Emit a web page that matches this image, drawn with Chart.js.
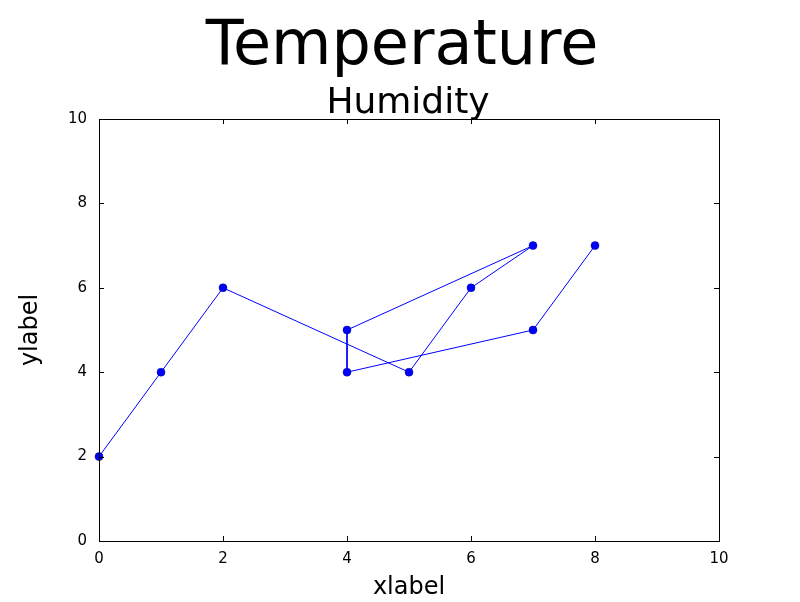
<!DOCTYPE html>
<html><head><meta charset="utf-8">
<script src="https://cdn.jsdelivr.net/npm/chart.js@4/dist/chart.umd.min.js"></script>
<style>html,body{margin:0;padding:0;background:#fff}#w{width:800px;height:602px}</style>
</head><body><div id="w"><canvas id="c"></canvas></div>
<script>
const xValues = [0, 1, 2, 5, 6, 7, 4, 4, 7, 8];
const yValues = [2, 4, 6, 4, 6, 7, 5, 4, 5, 7];
const titleText = "Temperature";
const subtitleText = "Humidity";
const xTitle = "xlabel";
const yTitle = "ylabel";
const FONT = "'DejaVu Sans', sans-serif";

const titles = {
  id: 'titles',
  afterDraw(chart) {
    const ctx = chart.ctx;
    ctx.save();
    ctx.fillStyle = '#000';
    ctx.textAlign = 'center';
    ctx.textBaseline = 'alphabetic';
    ctx.font = "62px " + FONT;
    ctx.fillText(titleText, 402, 64);
    ctx.font = "36px " + FONT;
    ctx.fillText(subtitleText, 408, 113);
    const a = chart.chartArea, xs = chart.scales.x, ys = chart.scales.y;
    ctx.strokeStyle = '#000'; ctx.lineWidth = 1;
    ctx.beginPath();
    for (let v = 0; v <= 10; v += 2) {
      const px = Math.round(xs.getPixelForValue(v)) + 0.5;
      ctx.moveTo(px, a.bottom); ctx.lineTo(px, a.bottom - 5);
      ctx.moveTo(px, a.top); ctx.lineTo(px, a.top + 5);
      const py = Math.round(ys.getPixelForValue(v)) + 0.5;
      ctx.moveTo(a.left, py); ctx.lineTo(a.left + 5, py);
      ctx.moveTo(a.right, py); ctx.lineTo(a.right - 5, py);
    }
    ctx.stroke();
    ctx.strokeRect(a.left + 0.5, a.top + 0.5, a.right - a.left, a.bottom - a.top);
    ctx.restore();
  }
};

new Chart(document.getElementById('c'), {
  type: 'scatter',
  data: { datasets: [{
    data: xValues.map((x, i) => ({x, y: yValues[i]})),
    showLine: true,
    borderColor: '#0000ff', borderWidth: 1,
    backgroundColor: '#0000ff', pointBackgroundColor: '#0000ff',
    pointBorderColor: '#000080', pointBorderWidth: 0.5,
    pointRadius: 4, clip: false
  }]},
  options: {
    responsive: true, maintainAspectRatio: false, animation: false,
    layout: { padding: { left: 0, right: 81, top: 119, bottom: 0 } },
    plugins: { legend: { display: false }, tooltip: { enabled: false } },
    scales: {
      x: { type: 'linear', min: 0, max: 10,
        ticks: { stepSize: 2, color: '#000', font: { size: 15, family: FONT }, padding: 1 },
        grid: { display: false }, border: { display: false },
        title: { display: true, text: xTitle, color: '#000', font: { size: 24, family: FONT }, padding: 0 },
        afterFit(s) { s.height = 61; } },
      y: { type: 'linear', min: 0, max: 10,
        ticks: { stepSize: 2, color: '#000', font: { size: 15, family: FONT }, padding: 4 },
        grid: { display: false }, border: { display: false },
        title: { display: true, text: yTitle, color: '#000', font: { size: 24, family: FONT }, padding: { top: 16, bottom: 0 } },
        afterFit(s) { s.width = 99; } }
    }
  },
  plugins: [titles]
});
</script></body></html>
